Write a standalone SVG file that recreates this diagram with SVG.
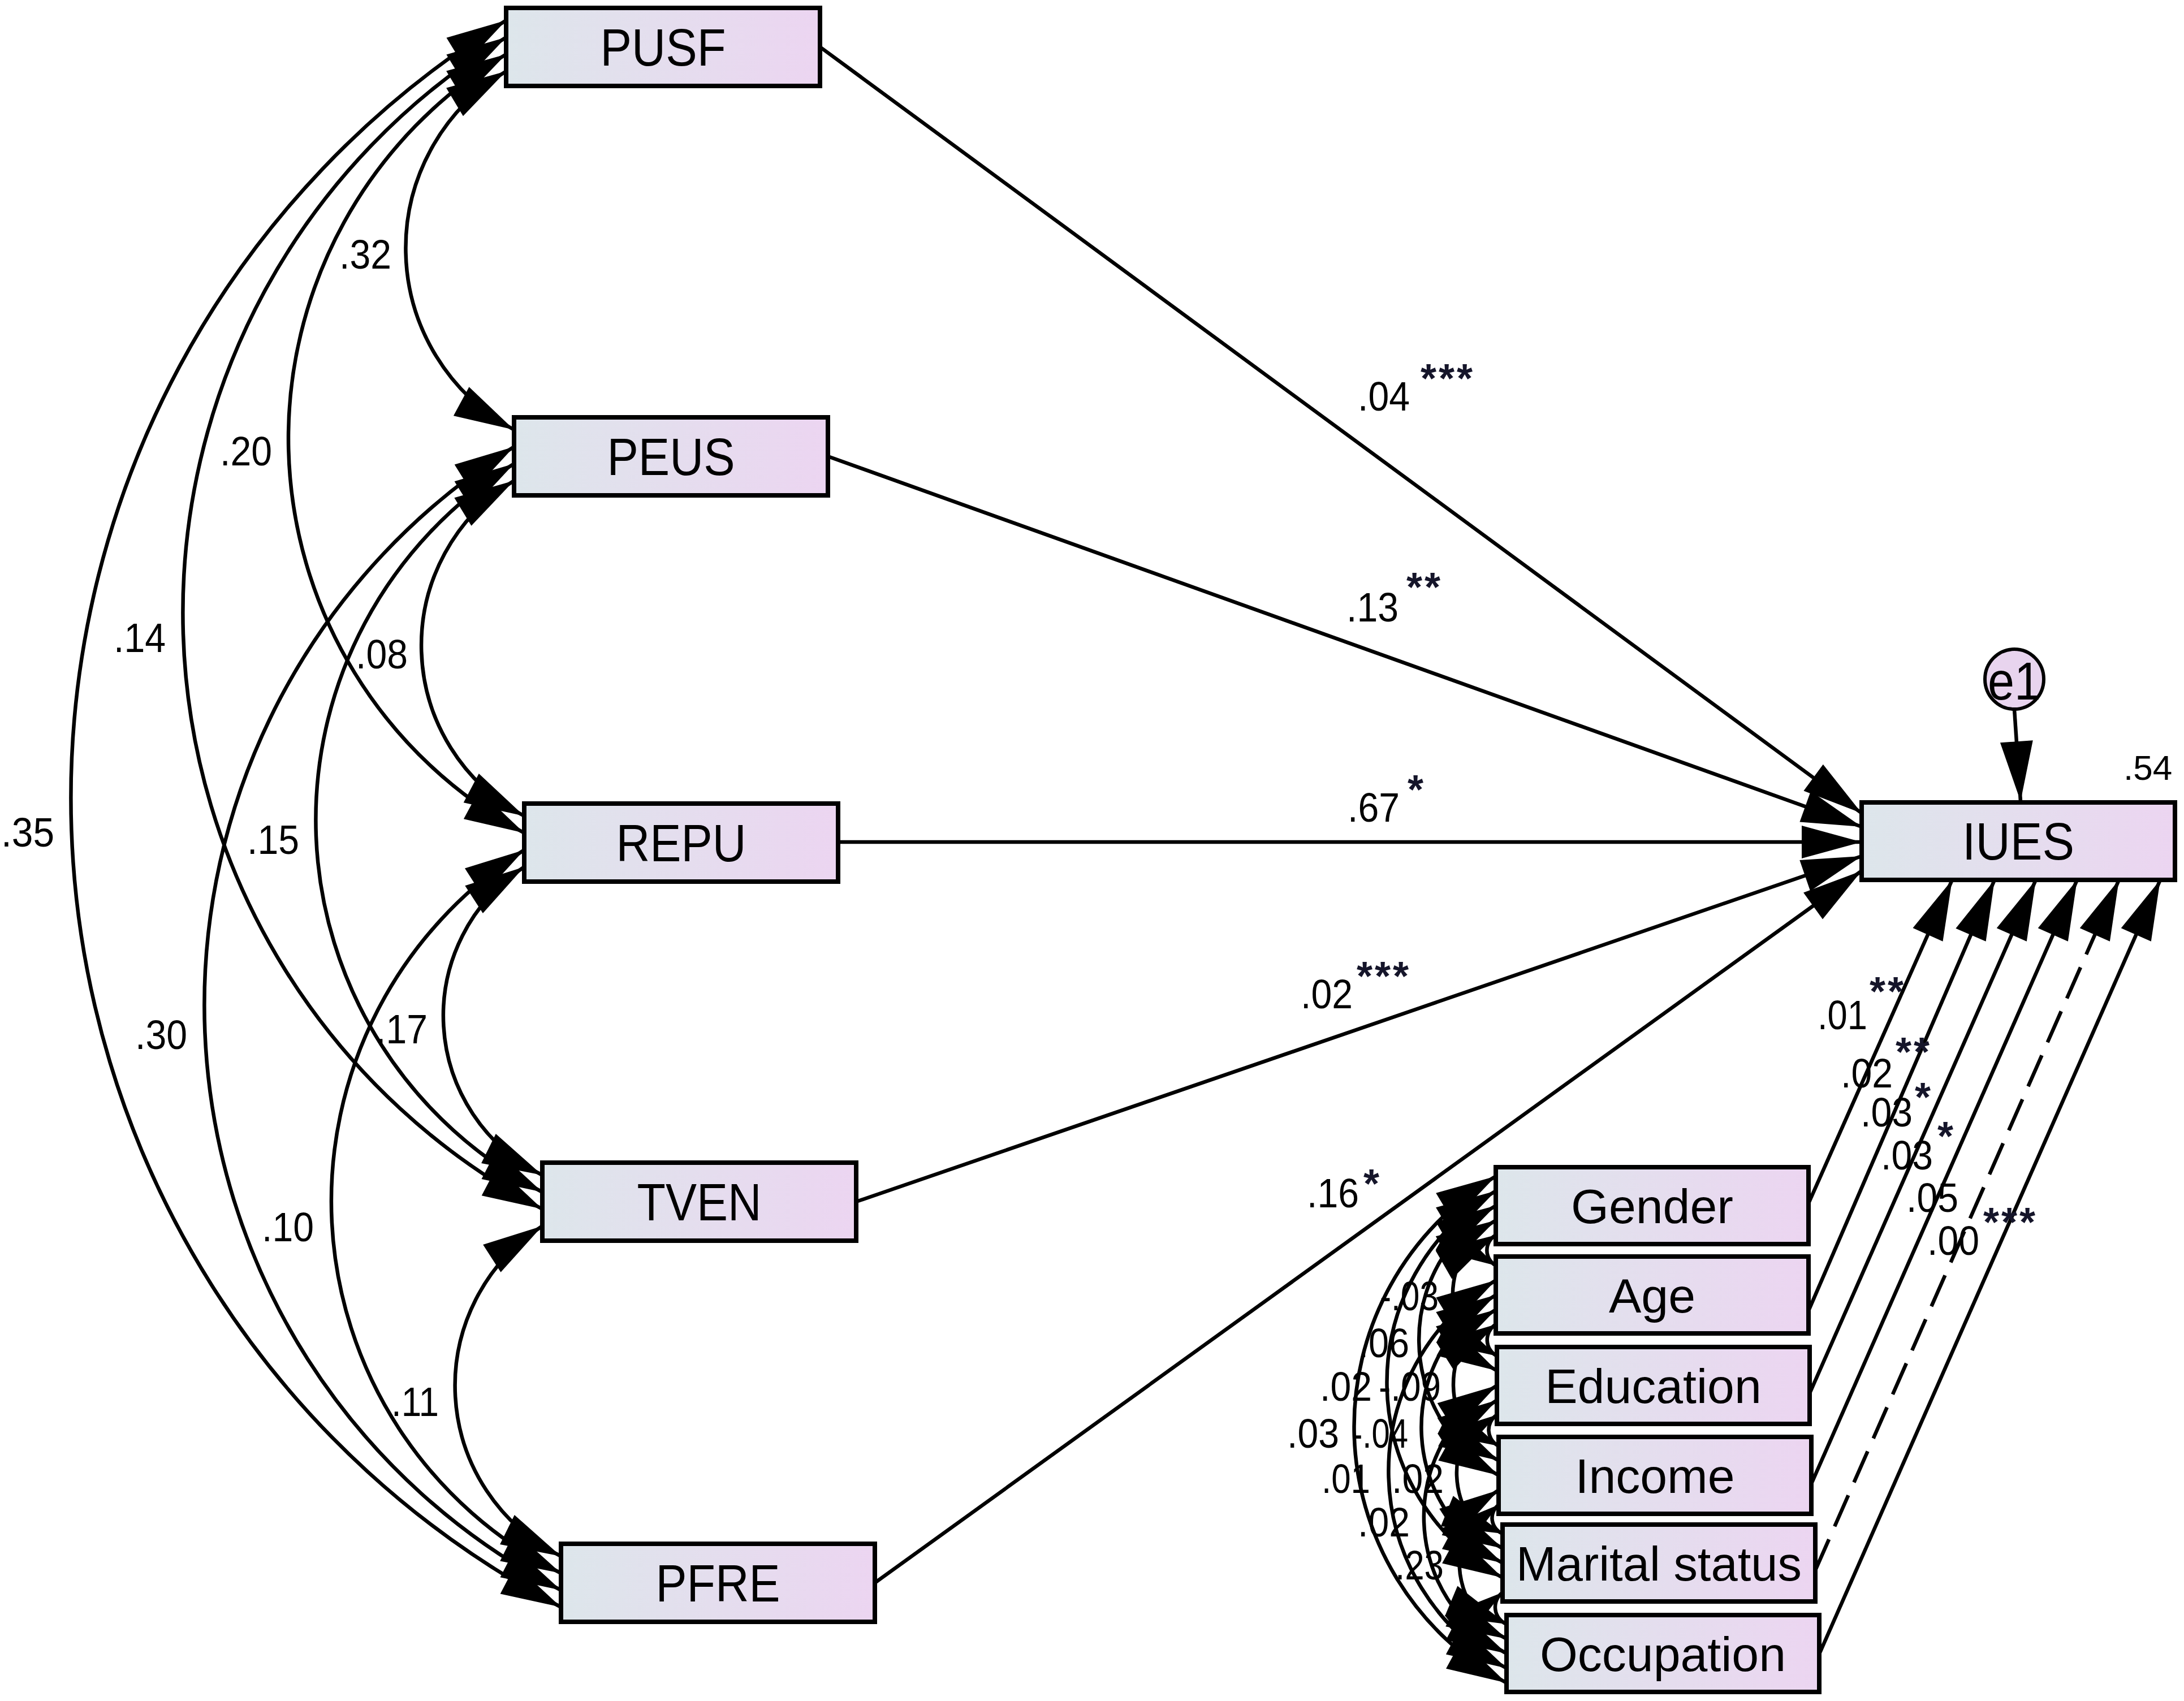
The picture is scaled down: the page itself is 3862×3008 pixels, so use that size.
<svg xmlns="http://www.w3.org/2000/svg" width="3862" height="3008" viewBox="0 0 3862 3008">
<style>
.box{fill:url(#bg);stroke:#000;stroke-width:8}
.nl{font-family:"Liberation Sans",Arial,sans-serif;font-size:92px;text-anchor:middle;fill:#000}
.dl{font-family:"Liberation Sans",Arial,sans-serif;font-size:86px;text-anchor:middle;fill:#000}
.c{fill:none;stroke:#000;stroke-width:6.5;marker-start:url(#ah);marker-end:url(#ah)}
.p{fill:none;stroke:#000;stroke-width:6.5;marker-end:url(#ah)}
.dash{stroke-dasharray:60 25}
.n{font-family:"Liberation Sans",Arial,sans-serif;font-size:72px;fill:#000}
.a{font-family:"Liberation Sans",Arial,sans-serif;font-size:72px;font-weight:bold;letter-spacing:4px;fill:#15152a}
</style>
<defs>
<linearGradient id="bg" x1="0" y1="0" x2="1" y2="0">
<stop offset="0" stop-color="#dde6eb"/>
<stop offset="1" stop-color="#ecd5f1"/>
</linearGradient>
<marker id="ah" markerUnits="userSpaceOnUse" viewBox="-2 -31 110 62" refX="106" refY="0" markerWidth="110" markerHeight="62" orient="auto-start-reverse">
<path d="M0,-29 L106,0 L0,29 Z" fill="#000"/>
</marker>
</defs>
<rect width="3862" height="3008" fill="#fff"/>

<g id="connectors">
<path class="c" d="M895 126 A364.7 364.7 0 0 0 909 760"/>
<path class="c" d="M895 96 A792 792 0 0 0 927 1473"/>
<path class="c" d="M895 66 A1192 1192 0 0 0 959 2138"/>
<path class="c" d="M895 36 A1614 1614 0 0 0 992 2842"/>
<path class="c" d="M909 850 A341 341 0 0 0 927 1443"/>
<path class="c" d="M909 820 A741 741 0 0 0 959 2108"/>
<path class="c" d="M909 790 A1164 1164 0 0 0 992 2812"/>
<path class="c" d="M927 1533 A314 314 0 0 0 959 2078"/>
<path class="c" d="M927 1503 A736 736 0 0 0 992 2782"/>
<path class="c" d="M959 2168 A336 336 0 0 0 992 2752"/>
<path class="p" d="M1450 83 L3292 1438"/>
<path class="p" d="M1464 807 L3292 1462"/>
<path class="p" d="M1482 1489 L3292 1489"/>
<path class="p" d="M1514 2125 L3292 1514"/>
<path class="p" d="M1547 2799 L3292 1540"/>
<path class="p" d="M3562 1254 L3573 1417"/>
<path class="c" d="M2645 2184 A31.1 31.1 0 0 0 2645 2238"/>
<path class="c" d="M2645 2158 A153.2 153.2 0 0 0 2647 2424"/>
<path class="c" d="M2645 2132 A274.8 274.8 0 0 0 2650 2609"/>
<path class="c" d="M2645 2106 A394 394 0 0 0 2657 2790"/>
<path class="c" d="M2645 2080 A516.2 516.2 0 0 0 2664 2976"/>
<path class="c" d="M2645 2342 A32.3 32.3 0 0 0 2647 2398"/>
<path class="c" d="M2645 2316 A153.8 153.8 0 0 0 2650 2583"/>
<path class="c" d="M2645 2290 A273.1 273.1 0 0 0 2657 2764"/>
<path class="c" d="M2645 2264 A395.3 395.3 0 0 0 2664 2950"/>
<path class="c" d="M2647 2502 A31.7 31.7 0 0 0 2650 2557"/>
<path class="c" d="M2647 2476 A151 151 0 0 0 2657 2738"/>
<path class="c" d="M2647 2450 A273.2 273.2 0 0 0 2664 2924"/>
<path class="c" d="M2650 2661 A29.7 29.7 0 0 0 2657 2712"/>
<path class="c" d="M2650 2635 A151.7 151.7 0 0 0 2664 2898"/>
<path class="c" d="M2657 2816 A32.5 32.5 0 0 0 2664 2872"/>
<path class="p" d="M3198 2128 L3452 1556"/>
<path class="p" d="M3198 2318 L3527 1556"/>
<path class="p" d="M3200 2464 L3600 1556"/>
<path class="p" d="M3203 2624 L3673 1556"/>
<path class="p dash" d="M3210 2777 L3747 1556"/>
<path class="p" d="M3217 2925 L3820 1556"/>
</g>

<g id="labels">
<text class="n" x="600" y="475" textLength="92" lengthAdjust="spacingAndGlyphs">.32</text>
<text class="n" x="389" y="823" textLength="92" lengthAdjust="spacingAndGlyphs">.20</text>
<text class="n" x="201" y="1153" textLength="92" lengthAdjust="spacingAndGlyphs">.14</text>
<text class="n" x="2" y="1497" textLength="94" lengthAdjust="spacingAndGlyphs">.35</text>
<text class="n" x="629" y="1182" textLength="92" lengthAdjust="spacingAndGlyphs">.08</text>
<text class="n" x="437" y="1510" textLength="92" lengthAdjust="spacingAndGlyphs">.15</text>
<text class="n" x="239" y="1855" textLength="92" lengthAdjust="spacingAndGlyphs">.30</text>
<text class="n" x="664" y="1845" textLength="92" lengthAdjust="spacingAndGlyphs">.17</text>
<text class="n" x="463" y="2195" textLength="92" lengthAdjust="spacingAndGlyphs">.10</text>
<text class="n" x="692" y="2504" textLength="84" lengthAdjust="spacingAndGlyphs">.11</text>

<text class="n" x="2401" y="726" textLength="92" lengthAdjust="spacingAndGlyphs">.04</text><text class="a" x="2512" y="694">***</text>
<text class="n" x="2381" y="1099" textLength="92" lengthAdjust="spacingAndGlyphs">.13</text><text class="a" x="2487" y="1063">**</text>
<text class="n" x="2383" y="1453" textLength="92" lengthAdjust="spacingAndGlyphs">.67</text><text class="a" x="2489" y="1421">*</text>
<text class="n" x="2300" y="1783" textLength="92" lengthAdjust="spacingAndGlyphs">.02</text><text class="a" x="2399" y="1751">***</text>
<text class="n" x="2311" y="2135" textLength="92" lengthAdjust="spacingAndGlyphs">.16</text><text class="a" x="2411" y="2118">*</text>
<text class="n" x="3755" y="1379" style="font-size:62px">.54</text>

<text class="n" x="3214" y="1820" textLength="88" lengthAdjust="spacingAndGlyphs">.01</text><text class="a" x="3306" y="1778">**</text>
<text class="n" x="3255" y="1923" textLength="92" lengthAdjust="spacingAndGlyphs">.02</text><text class="a" x="3352" y="1885">**</text>
<text class="n" x="3290" y="1992" textLength="92" lengthAdjust="spacingAndGlyphs">.03</text><text class="a" x="3386" y="1965">*</text>
<text class="n" x="3326" y="2068" textLength="92" lengthAdjust="spacingAndGlyphs">.03</text><text class="a" x="3426" y="2034">*</text>
<text class="n" x="3371" y="2143" textLength="92" lengthAdjust="spacingAndGlyphs">.05</text>
<text class="n" x="3408" y="2219" textLength="92" lengthAdjust="spacingAndGlyphs">.00</text><text class="a" x="3507" y="2186">***</text>

<text class="n" x="2440" y="2317" textLength="104" lengthAdjust="spacingAndGlyphs">-.03</text>
<text class="n" x="2402" y="2400" textLength="90" lengthAdjust="spacingAndGlyphs">.06</text>
<text class="n" x="2334" y="2477" textLength="92" lengthAdjust="spacingAndGlyphs">.02</text>
<text class="n" x="2438" y="2477" textLength="110" lengthAdjust="spacingAndGlyphs">-.09</text>
<text class="n" x="2276" y="2560" textLength="92" lengthAdjust="spacingAndGlyphs">.03</text>
<text class="n" x="2390" y="2560" textLength="100" lengthAdjust="spacingAndGlyphs">-.04</text>
<text class="n" x="2337" y="2640" textLength="86" lengthAdjust="spacingAndGlyphs">.01</text>
<text class="n" x="2461" y="2640" textLength="92" lengthAdjust="spacingAndGlyphs">.02</text>
<text class="n" x="2401" y="2717" textLength="92" lengthAdjust="spacingAndGlyphs">.02</text>
<text class="n" x="2467" y="2793" textLength="86" lengthAdjust="spacingAndGlyphs">.23</text>
</g>

<g id="PUSF"><rect class="box" x="895" y="14" width="555" height="138"/><text class="nl" x="1172.5" y="116" textLength="222" lengthAdjust="spacingAndGlyphs">PUSF</text></g>
<g id="PEUS"><rect class="box" x="909" y="738" width="555" height="138"/><text class="nl" x="1186.5" y="840" textLength="226" lengthAdjust="spacingAndGlyphs">PEUS</text></g>
<g id="REPU"><rect class="box" x="927" y="1421" width="555" height="138"/><text class="nl" x="1204.5" y="1523" textLength="230" lengthAdjust="spacingAndGlyphs">REPU</text></g>
<g id="TVEN"><rect class="box" x="959" y="2056" width="555" height="138"/><text class="nl" x="1236.5" y="2158" textLength="220" lengthAdjust="spacingAndGlyphs">TVEN</text></g>
<g id="PFRE"><rect class="box" x="992" y="2730" width="555" height="138"/><text class="nl" x="1269.5" y="2832" textLength="220" lengthAdjust="spacingAndGlyphs">PFRE</text></g>
<g id="IUES"><rect class="box" x="3292" y="1419" width="554" height="137"/><text class="nl" x="3569" y="1520" textLength="198" lengthAdjust="spacingAndGlyphs">IUES</text></g>
<g id="e1"><ellipse cx="3562" cy="1201" rx="52" ry="53" fill="#e8d4ee" stroke="#000" stroke-width="6"/><text class="nl" x="3562" y="1237" style="font-size:94px" textLength="94" lengthAdjust="spacingAndGlyphs">e1</text></g>

<g id="Gender"><rect class="box" x="2645" y="2064" width="553" height="136"/><text class="dl" x="2921.5" y="2163">Gender</text></g>
<g id="Age"><rect class="box" x="2645" y="2222" width="553" height="136"/><text class="dl" x="2921.5" y="2321">Age</text></g>
<g id="Education"><rect class="box" x="2647" y="2382" width="553" height="136"/><text class="dl" x="2923.5" y="2481">Education</text></g>
<g id="Income"><rect class="box" x="2650" y="2541" width="553" height="136"/><text class="dl" x="2926.5" y="2640">Income</text></g>
<g id="Marital"><rect class="box" x="2657" y="2696" width="553" height="136"/><text class="dl" x="2933.5" y="2795" textLength="505" lengthAdjust="spacingAndGlyphs">Marital status</text></g>
<g id="Occupation"><rect class="box" x="2664" y="2856" width="553" height="136"/><text class="dl" x="2940.5" y="2955">Occupation</text></g>
</svg>
